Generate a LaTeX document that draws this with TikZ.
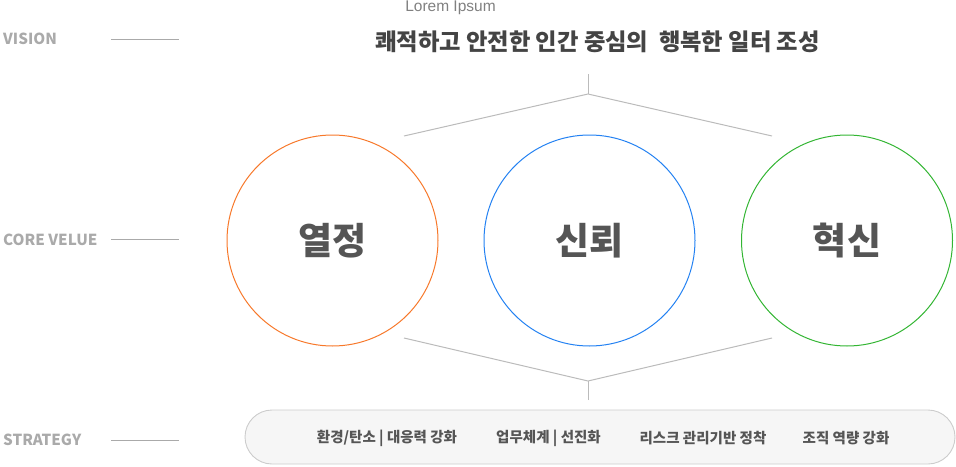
\documentclass[tikz,border=0pt]{standalone}
\usepackage{fontspec}
\setmainfont{Noto Sans}
\newfontfamily\kr{Noto Sans CJK KR}
\newfontfamily\lat{Liberation Sans}
\definecolor{lbl}{HTML}{AAAAAA}
\definecolor{conn}{HTML}{BBBBBB}
\definecolor{txt}{HTML}{555555}
\definecolor{ttl}{HTML}{444444}
\definecolor{corange}{HTML}{F7782A}
\definecolor{cblue}{HTML}{2381F2}
\definecolor{cgreen}{HTML}{33B533}
\definecolor{barfill}{HTML}{F6F6F6}
\definecolor{barline}{HTML}{CCCCCC}
\begin{document}
\begin{tikzpicture}[x=1pt,y=-1pt,
  sidelabel/.style={anchor=west,inner sep=0pt,text=lbl,font=\kr\fontsize{15.2}{15.2}\selectfont\bfseries},
  sideline/.style={draw=lbl,line width=0.9pt},
  conn/.style={draw=conn,line width=1pt},
  valuecircle/.style={circle,minimum size=211pt,inner sep=0pt,line width=1pt,text=txt,font=\kr\fontsize{37}{37}\selectfont\bfseries},
  strat/.style={inner sep=0pt,text=txt,font=\kr\fontsize{14.5}{14.5}\selectfont\bfseries}]
\useasboundingbox (0,0) rectangle (956,466);
% side labels
\node[sidelabel] (vis) at (3,39) {VISION};
\node[sidelabel] (core) at (3,240) {CORE VELUE};
\node[sidelabel] (str) at (3,440) {STRATEGY};
\coordinate (v1) at (111,39); \coordinate (v2) at (179,39);
\coordinate (c1) at (111,239.5); \coordinate (c2) at (179,239.5);
\coordinate (s1) at (111,440); \coordinate (s2) at (179,440);
\draw[sideline] (v1) -- (v2);
\draw[sideline] (c1) -- (c2);
\draw[sideline] (s1) -- (s2);
% title
\node[inner sep=0pt,text=gray,font=\lat\fontsize{15.5}{15.5}\selectfont] (lorem) at (450.5,8) {Lorem Ipsum};
\node[inner sep=0pt,text=ttl,font=\kr\fontsize{23.3}{23.3}\selectfont\bfseries] (title) at (597.5,42) {쾌적하고 안전한 인간 중심의~ 행복한 일터 조성};
% circles
\node[valuecircle,draw=corange] (c-a) at (332.5,240.5) {열정};
\node[valuecircle,draw=cblue] (c-b) at (589.5,240.5) {신뢰};
\node[valuecircle,draw=cgreen] (c-c) at (847,240.5) {혁신};
% top connector
\coordinate (t0) at (588,74);
\coordinate (t1) at (588,94);
\coordinate (tl) at (404,136);
\coordinate (tr) at (772,136);
\draw[conn] (t0) -- (t1);
\draw[conn] (tl) -- (t1) -- (tr);
% bottom connector
\coordinate (b0) at (588,400);
\coordinate (b1) at (588,381);
\coordinate (bl) at (404,338);
\coordinate (br) at (772,338);
\draw[conn] (b0) -- (b1);
\draw[conn] (bl) -- (b1) -- (br);
% strategy bar
\node[draw=barline,fill=barfill,line width=0.9pt,rounded corners=27pt,minimum width=710pt,minimum height=54pt,inner sep=0pt] (bar) at (600,437) {};
\node[strat] (s-a) at (387,438) {환경/탄소 | 대응력 강화};
\node[strat] (s-b) at (548.5,438) {업무체계 | 선진화};
\node[strat] (s-c) at (703,438) {리스크 관리기반 정착};
\node[strat] (s-d) at (846,438) {조직 역량 강화};
\end{tikzpicture}
\end{document}
